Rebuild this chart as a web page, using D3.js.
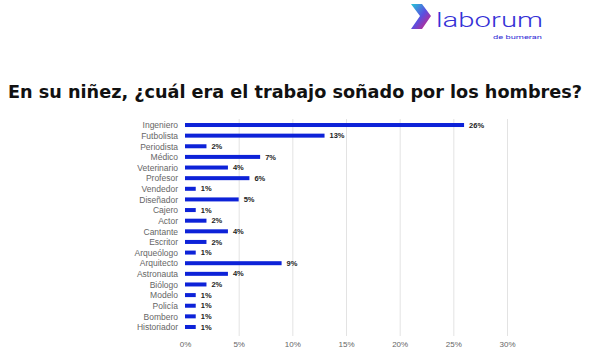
<!DOCTYPE html>
<html><head><meta charset="utf-8">
<script src="https://cdn.jsdelivr.net/npm/d3@7"></script>
<style>html,body{margin:0;padding:0;background:#fff;}svg{display:block;}</style>
</head><body>
<svg id="c" width="602" height="355"></svg>
<script>
const categories = ["Ingeniero","Futbolista","Periodista","Médico","Veterinario","Profesor","Vendedor","Diseñador","Cajero","Actor","Cantante","Escritor","Arqueólogo","Arquitecto","Astronauta","Biólogo","Modelo","Policía","Bombero","Historiador"];
const values = [26,13,2,7,4,6,1,5,1,2,4,2,1,9,4,2,1,1,1,1];
const ticks = [0,5,10,15,20,25,30];
const title = "En su niñez, ¿cuál era el trabajo soñado por los hombres?";

const svg = d3.select("#c");
const x = d3.scaleLinear().domain([0,30]).range([185,507]);
const y = d3.scalePoint().domain(categories).range([119.7,332.3]).padding(0.5);

// logo
const defs = svg.append("defs");
const g = defs.append("linearGradient").attr("id","lg").attr("x1","0").attr("y1","0").attr("x2","1").attr("y2","1");
g.append("stop").attr("offset","0").attr("stop-color","#25c9d6");
g.append("stop").attr("offset","0.5").attr("stop-color","#5a4fe0");
g.append("stop").attr("offset","1").attr("stop-color","#e8196e");
svg.append("path").attr("d","M411,4 L422,4 L431,16 L422,29 L411,29 L420,16 Z").attr("fill","url(#lg)");
svg.append("text").attr("x",436).attr("y",27).attr("font-family","Roboto, sans-serif").attr("font-weight",300)
  .attr("font-size",20).attr("fill","#3531d6").attr("textLength",107).attr("lengthAdjust","spacingAndGlyphs").text("laborum");
svg.append("text").attr("x",493).attr("y",39).attr("font-family","Roboto, sans-serif")
  .attr("font-size",6).attr("fill","#3531d6").attr("textLength",49).attr("lengthAdjust","spacingAndGlyphs").text("de bumeran");

// title
svg.append("text").attr("x",8).attr("y",98).attr("font-family","'DejaVu Sans Condensed', 'DejaVu Sans', sans-serif")
  .attr("font-weight","bold").attr("font-size",18).attr("fill","#111")
  .attr("textLength",574).attr("lengthAdjust","spacingAndGlyphs").text(title);

// grid
svg.append("g").selectAll("line").data(ticks.slice(1)).join("line")
  .attr("x1",d=>x(d)+0.5).attr("x2",d=>x(d)+0.5).attr("y1",119).attr("y2",336)
  .attr("stroke","#e3e3e3").attr("stroke-width",1);

// x axis labels
const xa = svg.append("g").attr("transform","translate(0,341)")
  .call(d3.axisBottom(x).tickValues(ticks).tickFormat(d=>d+"%").tickSize(0).tickPadding(0));
xa.select(".domain").remove();
xa.selectAll("text").attr("font-family","'Liberation Sans', Arial, sans-serif").attr("font-size",8).attr("fill","#666");

// y axis labels
const ya = svg.append("g").attr("transform","translate(185,0)")
  .call(d3.axisLeft(y).tickSize(0).tickPadding(7));
ya.select(".domain").remove();
ya.selectAll("text").attr("font-family","'Liberation Sans', Arial, sans-serif").attr("font-size",8.5).attr("fill","#666");

// bars
svg.append("g").selectAll("rect").data(categories).join("rect")
  .attr("x",x(0)).attr("y",d=>y(d)-2).attr("height",4)
  .attr("width",(d,i)=>x(values[i])-x(0)).attr("fill","#0d22d8");

// value labels
svg.append("g").selectAll("text").data(categories).join("text")
  .attr("x",(d,i)=>x(values[i])+5).attr("y",d=>y(d)).attr("dy","0.35em")
  .attr("font-family","'Liberation Sans', Arial, sans-serif").attr("font-weight","bold")
  .attr("font-size",7.5).attr("fill","#222").text((d,i)=>values[i]+"%");
</script>
</body></html>
